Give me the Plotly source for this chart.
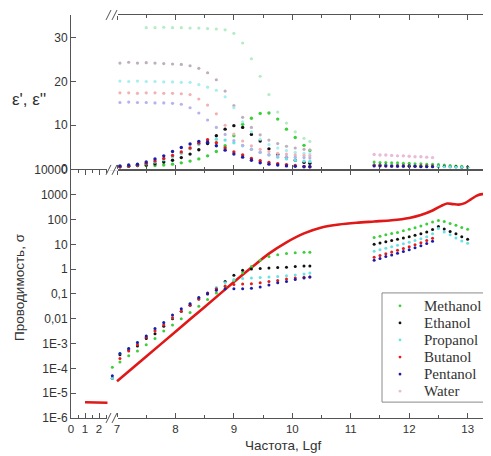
import plotly.graph_objects as go

# ---------------- data ----------------
names = ["Methanol", "Ethanol", "Propanol", "Butanol", "Pentanol", "Water"]

lgf_mw = [7.05, 7.2, 7.35, 7.5, 7.65, 7.8, 7.95, 8.1, 8.25, 8.4, 8.55, 8.7,
          8.85, 9.0, 9.15, 9.3, 9.45, 9.6, 9.75, 9.9, 10.05, 10.2, 10.3]
lgf_mw_s = [6.92, 7.05, 7.2, 7.35, 7.5, 7.65, 7.8, 7.95, 8.1, 8.25, 8.4, 8.55, 8.7,
            8.85, 9.0, 9.15, 9.3, 9.45, 9.6, 9.75, 9.9, 10.05, 10.2, 10.3]
lgf_thz = [11.4, 11.5, 11.6, 11.7, 11.8, 11.9, 12.0, 12.1, 12.2, 12.3, 12.4,
           12.5, 12.6, 12.7, 12.8, 12.9, 13.0]

# eps' (real part), microwave range
eps1_methanol = [None, None, None, 32.3, 32.3, 32.4, 32.3, 32.3, 32.2, 32.2, 32.1, 32.0,
                 31.8, 31.0, 28.8, 25.2, 21.2, 17.0, 13.0, 10.5, 8.5, 7.0, 6.3]
eps1_ethanol = [24.2, 24.4, 24.2, 24.3, 24.2, 24.1, 24.0, 23.9, 23.6, 23.0, 22.0, 20.4,
                17.8, 14.5, 11.8, 9.5, 7.8, 6.6, 5.8, 5.2, 4.8, 4.5, 4.4]
eps1_propanol = [20.1, 20.0, 20.1, 20.0, 20.0, 19.9, 19.9, 19.8, 19.8, 19.3, 18.7, 18.0,
                 16.5, 14.0, 10.8, 8.5, 6.8, 5.6, 4.8, 4.2, 3.8, 3.6, 3.5]
eps1_butanol = [17.4, 17.4, 17.3, 17.4, 17.4, 17.3, 17.3, 17.2, 17.0, 16.0, 14.6, 12.6,
                10.0, 8.0, 6.4, 5.3, 4.5, 4.0, 3.6, 3.4, 3.2, 3.1, 3.0]
eps1_pentanol = [15.2, 15.3, 15.2, 15.2, 15.1, 15.1, 15.0, 14.8, 14.0, 12.8, 11.2, 9.5,
                 7.9, 6.5, 5.4, 4.5, 3.8, 3.3, 3.0, 2.8, 2.7, 2.6, 2.5]

# eps'' (imaginary part), microwave range
eps2_methanol = [None, 0.6, 0.8, 0.8, 0.8, 0.9, 1.1, 1.4, 1.8, 2.3, 3.0, 4.0,
                 5.3, 7.6, 10.2, 11.6, 12.7, 12.8, 11.4, 9.1, 7.2, 5.4, 4.2]
eps2_ethanol = [0.5, 0.6, 0.8, 0.9, 1.2, 1.6, 2.0, 2.6, 3.4, 4.4, 5.8, 7.6,
                9.1, 9.9, 9.5, 7.9, 6.4, 4.6, 3.3, 2.6, 2.0, 1.5, 1.3]
eps2_propanol = [0.5, 0.7, 0.9, 1.2, 1.6, 2.1, 2.8, 3.6, 4.6, 5.6, 6.4, 6.8,
                 6.6, 6.0, 5.3, 4.5, 3.8, 3.2, 2.7, 2.3, 2.0, 1.8, 1.7]
eps2_butanol = [0.5, 0.7, 0.9, 1.3, 1.8, 2.4, 3.1, 3.9, 4.8, 5.9, 6.7, 6.0,
                4.8, 3.9, 3.2, 2.4, 1.9, 1.5, 1.2, 1.0, 0.8, 0.6, 0.5]
eps2_pentanol = [0.7, 0.9, 1.1, 1.6, 2.3, 3.0, 4.0, 4.9, 5.7, 6.3, 6.1, 5.3,
                 4.3, 3.4, 2.7, 2.0, 1.4, 1.1, 0.9, 0.7, 0.6, 0.5, 0.5]

# eps' in THz range
eps_thz_water = [3.3, 3.2, 3.2, 3.1, 3.0, 3.0, 2.9, 2.8, 2.8, 2.7, 2.6,
                 None, None, None, None, None, None]
eps_thz_methanol = [1.6, 1.5, 1.5, 1.4, 1.4, 1.3, 1.3, 1.2, 1.2, 1.1, 1.1, 1.0, 0.9, 0.8, 0.7, 0.6, 0.5]
eps_thz_ethanol = [0.9, 0.9, 0.9, 0.8, 0.8, 0.8, 0.8, 0.7, 0.7, 0.7, 0.7, 0.6, 0.6, 0.5, 0.5, 0.4, 0.4]
eps_thz_propanol = [0.8, 0.8, 0.8, 0.8, 0.7, 0.7, 0.7, 0.7, 0.6, 0.6, 0.6, 0.6, 0.5, 0.5, 0.4, 0.4, 0.3]
eps_thz_butanol = [0.8, 0.8, 0.7, 0.7, 0.7, 0.7, 0.6, 0.6, 0.6, 0.6, 0.6,
                   None, None, None, None, None, None]
eps_thz_pentanol = [0.7, 0.7, 0.7, 0.6, 0.6, 0.6, 0.6, 0.6, 0.5, 0.5, 0.5,
                    None, None, None, None, None, None]

# conductivity, microwave range
sig_methanol = [1.1e-4, 1.8e-4, 3.2e-4, 5.0e-4, 8.9e-4, 1.6e-3, 3.2e-3, 5.6e-3, 0.010, 0.018,
                0.032, 0.060, 0.11, 0.20, 0.35, 0.71, 1.26, 2.3, 3.2, 3.8, 4.3, 4.6, 4.8, 4.8]
sig_ethanol = [4.0e-5, 3.5e-4, 5.6e-4, 7.9e-4, 1.6e-3, 2.5e-3, 5.0e-3, 0.010, 0.020, 0.035,
               0.063, 0.10, 0.16, 0.32, 0.56, 0.89, 1.0, 1.05, 1.1, 1.15, 1.2, 1.26, 1.32, 1.32]
sig_propanol = [4.0e-5, 4.0e-4, 6.3e-4, 1.1e-3, 2.0e-3, 3.5e-3, 6.3e-3, 0.011, 0.022, 0.040,
                0.071, 0.11, 0.18, 0.28, 0.38, 0.42, 0.44, 0.46, 0.48, 0.50, 0.54, 0.58, 0.63, 0.69]
sig_butanol = [None, 2.5e-4, 5.0e-4, 8.9e-4, 1.8e-3, 3.2e-3, 5.6e-3, 0.011, 0.020, 0.035,
               0.063, 0.11, 0.16, 0.21, 0.24, 0.25, 0.26, 0.28, 0.32, 0.35, 0.40, 0.44, 0.47, 0.48]
sig_pentanol = [5.0e-5, 4.0e-4, 6.3e-4, 1.1e-3, 2.0e-3, 4.0e-3, 7.1e-3, 0.014, 0.025, 0.040,
                0.071, 0.105, 0.14, 0.16, 0.16, 0.16, 0.17, 0.19, 0.23, 0.28, 0.32, 0.38, 0.44, 0.48]

# conductivity, THz range
sig_thz_methanol = [19, 21, 24, 27, 30, 35, 40, 46, 55, 66, 79, 91, 83, 69, 58, 48, 40]
sig_thz_ethanol = [10, 11.2, 12.6, 14.1, 15.8, 17.8, 20, 22.9, 26.3, 31.6, 39.8, 52.5, 41.7, 33.1, 26.3, 20, 15.8]
sig_thz_propanol = [5.2, 6.0, 6.9, 7.9, 9.1, 10.5, 12, 14.1, 16.6, 20, 26.3, 43.7, 31.6, 24, 17.8, 13.5, 11]
sig_thz_butanol = [3.0, 3.5, 4.2, 4.9, 5.8, 6.8, 7.9, 9.5, 11.5, 14.1, 17.4,
                   None, None, None, None, None, None]
sig_thz_pentanol = [2.3, 2.7, 3.2, 3.7, 4.4, 5.1, 6.0, 7.2, 8.7, 10.7, 13.2,
                    None, None, None, None, None, None]

# red solid curve
line_lgf_low = [1.0, 1.8, 2.6]
line_sig_low = [4.3e-6, 4.3e-6, 4.1e-6]
line_lgf = [7.0, 7.5, 8.0, 8.5, 9.0, 9.3, 9.6, 9.9, 10.2, 10.5, 10.8, 11.1, 11.4, 11.7,
            12.0, 12.2, 12.4, 12.55, 12.65, 12.75, 12.85, 12.95, 13.05, 13.15, 13.25, 13.35, 13.4]
line_sig = [3.0e-5, 3.0e-4, 3.0e-3, 0.030, 0.30, 1.15, 4.2, 12, 27.5, 48, 63, 74, 83, 93,
            115, 151, 229, 355, 437, 417, 398, 457, 631, 891, 1047, 1000, 912]

sig_tickvals = [1e-6, 1e-5, 1e-4, 1e-3, 1e-2, 1e-1, 1, 10, 100, 1000, 10000]
sig_ticktext = ["1E-6", "1E-5", "1E-4", "1E-3", "0,01", "0,1", "1", "10", "100", "1000", "10000"]
eps_tickvals = [0, 10, 20, 30]
low_ticks = [0, 1, 2]
high_ticks = [7, 8, 9, 10, 11, 12, 13]

# ---------------- styling ----------------
colors = {"Methanol": "#3ccf3c", "Ethanol": "#111111", "Propanol": "#66e3e3",
          "Butanol": "#e31c1c", "Pentanol": "#1c1ca6", "Water": "#e8bcd8"}
pale = {"Methanol": "#b4ecc6", "Ethanol": "#bfaebd", "Propanol": "#a6eef0",
        "Butanol": "#f2b2b2", "Pentanol": "#b6b2ea"}

# page body has an 8px default margin; figure placed so plot area sits at
# x 71..491, y 12..418 of the window
OFF = 8
L, T = 71 - OFF, 12 - OFF
PW, PH = 420, 406
Wf = L + PW
Hf = 448
B = Hf - T - PH


def px(x):
    return (x - 71) / PW


def py(y):
    return (418 - y) / PH


split = py(168)
d1 = [0, px(109)]
d2 = [px(110), 1]

fig = go.Figure()

eps1 = {"Methanol": eps1_methanol, "Ethanol": eps1_ethanol, "Propanol": eps1_propanol,
        "Butanol": eps1_butanol, "Pentanol": eps1_pentanol}
eps2 = {"Methanol": eps2_methanol, "Ethanol": eps2_ethanol, "Propanol": eps2_propanol,
        "Butanol": eps2_butanol, "Pentanol": eps2_pentanol}
eps_thz = {"Methanol": eps_thz_methanol, "Ethanol": eps_thz_ethanol, "Propanol": eps_thz_propanol,
           "Butanol": eps_thz_butanol, "Pentanol": eps_thz_pentanol}
sig = {"Methanol": sig_methanol, "Ethanol": sig_ethanol, "Propanol": sig_propanol,
       "Butanol": sig_butanol, "Pentanol": sig_pentanol}
sig_thz = {"Methanol": sig_thz_methanol, "Ethanol": sig_thz_ethanol, "Propanol": sig_thz_propanol,
           "Butanol": sig_thz_butanol, "Pentanol": sig_thz_pentanol}

# red curve
fig.add_trace(go.Scatter(x=line_lgf_low, y=line_sig_low, mode="lines", xaxis="x", yaxis="y",
                         line=dict(color="#e01818", width=2.6), showlegend=False, hoverinfo="skip"))
fig.add_trace(go.Scatter(x=line_lgf, y=line_sig, mode="lines", xaxis="x2", yaxis="y",
                         line=dict(color="#e01818", width=2.6, shape="spline", smoothing=0.8),
                         showlegend=False, hoverinfo="skip"))

for i, n in enumerate(names[:5]):
    c = colors[n]
    fig.add_trace(go.Scatter(x=lgf_mw, y=eps1[n], mode="markers", xaxis="x4", yaxis="y2",
                             marker=dict(color=pale[n], size=3.2), name=n + " ε'", showlegend=False))
    fig.add_trace(go.Scatter(x=lgf_mw, y=eps2[n], mode="markers", xaxis="x4", yaxis="y2",
                             marker=dict(color=c, size=3.4), name=n + " ε''", showlegend=False))
    fig.add_trace(go.Scatter(x=lgf_thz, y=eps_thz[n], mode="markers", xaxis="x4", yaxis="y2",
                             marker=dict(color=c, size=3), name=n, showlegend=False))
    fig.add_trace(go.Scatter(x=lgf_mw_s, y=sig[n], mode="markers", xaxis="x2", yaxis="y",
                             marker=dict(color=c, size=3), name=n, showlegend=False))
    fig.add_trace(go.Scatter(x=lgf_thz, y=sig_thz[n], mode="markers", xaxis="x2", yaxis="y",
                             marker=dict(color=c, size=3), name=n, showlegend=False))

fig.add_trace(go.Scatter(x=lgf_thz, y=eps_thz_water, mode="markers", xaxis="x4", yaxis="y2",
                         marker=dict(color=colors["Water"], size=3.4), name="Water",
                         showlegend=False))

axcol = "#555555"
xtickfont = dict(family="Liberation Sans, Arial, sans-serif", size=11.5, color="#333333")
ytickfont = dict(family="Liberation Sans, Arial, sans-serif", size=12, color="#333333")
xcommon = dict(showline=True, linecolor=axcol, linewidth=1, ticks="inside", ticklen=5,
               tickcolor=axcol, mirror="ticks", showgrid=False, zeroline=False,
               tickfont=xtickfont,
               minor=dict(dtick=0.5, ticks="inside", ticklen=3, tickcolor=axcol, showgrid=False))

fig.update_layout(
    width=Wf, height=Hf,
    margin=dict(l=L, r=0, t=T, b=B, pad=0),
    paper_bgcolor="white", plot_bgcolor="white",
    showlegend=False,
    xaxis=dict(domain=d1, anchor="y", range=[0, 2.71], tickmode="array", tickvals=low_ticks,
               **xcommon),
    xaxis2=dict(domain=d2, anchor="y", range=[6.88, 13.4], tickmode="array", tickvals=high_ticks,
                **xcommon),
    xaxis3=dict(domain=d1, anchor="y2", range=[0, 2.71], tickmode="array", tickvals=low_ticks,
                showticklabels=False, **xcommon),
    xaxis4=dict(domain=d2, anchor="y2", range=[6.88, 13.4], tickmode="array", tickvals=high_ticks,
                showticklabels=False, **xcommon),
    yaxis=dict(domain=[0, split], anchor="x", type="log", range=[-6, 4],
               tickmode="array", tickvals=sig_tickvals, ticktext=sig_ticktext,
               showline=True, linecolor=axcol, linewidth=1, ticks="inside", ticklen=5,
               tickcolor=axcol, showgrid=False, zeroline=False, tickfont=ytickfont),
    yaxis2=dict(domain=[split, 1], anchor="x3", range=[-0.2, 35.2],
                tickmode="array", tickvals=eps_tickvals,
                showline=True, linecolor=axcol, linewidth=1, ticks="inside", ticklen=5,
                tickcolor=axcol, showgrid=False, zeroline=False, tickfont=ytickfont),
)

sans = "Liberation Sans, Arial, sans-serif"
# axis titles
fig.add_annotation(text="Проводимость, σ", x=px(20), y=py(286), xref="paper", yref="paper",
                   xanchor="center", yanchor="middle", textangle=-90, showarrow=False,
                   font=dict(family=sans, size=13.5, color="#333333"))
fig.add_annotation(text="ε', ε''", x=px(29), y=py(97), xref="paper", yref="paper",
                   xanchor="center", yanchor="middle", showarrow=False,
                   font=dict(family=sans, size=17, color="#333333"))
fig.add_annotation(text="Частота, Lgf", x=px(283), y=py(446), xref="paper", yref="paper",
                   xanchor="center", yanchor="middle", showarrow=False,
                   font=dict(family=sans, size=13.5, color="#333333"))

# legend box (drawn in the reference style: tight rows inside a grey frame)
fig.add_shape(type="rect", x0=px(382), x1=px(489), y0=py(402), y1=py(292),
              xref="paper", yref="paper", line=dict(color="#8a8a8a", width=1),
              fillcolor="white", layer="above")
for k, n in enumerate(names):
    yc = 305 + k * 17.2
    fig.add_shape(type="circle", x0=px(398.6), x1=px(401.4), y0=py(yc + 1.4), y1=py(yc - 1.4),
                  xref="paper", yref="paper", line=dict(width=0), fillcolor=colors[n],
                  layer="above")
    fig.add_annotation(text=n, x=px(422), y=py(yc), xref="paper", yref="paper",
                       xanchor="left", yanchor="middle", showarrow=False,
                       font=dict(family="Liberation Serif, Times New Roman, serif", size=15,
                                 color="#333333"))

# axis break marks
for yb in [12, 168, 418]:
    fig.add_shape(type="rect", x0=px(107), x1=px(118), y0=py(yb + 1), y1=py(yb - 1),
                  xref="paper", yref="paper", line=dict(width=0), fillcolor="white", layer="above")
    for xb in [106, 112]:
        fig.add_shape(type="line", x0=px(xb), y0=py(yb + 5), x1=px(xb + 5), y1=py(yb - 5),
                      xref="paper", yref="paper", line=dict(color=axcol, width=1), layer="above")

fig.write_html("out.html")
